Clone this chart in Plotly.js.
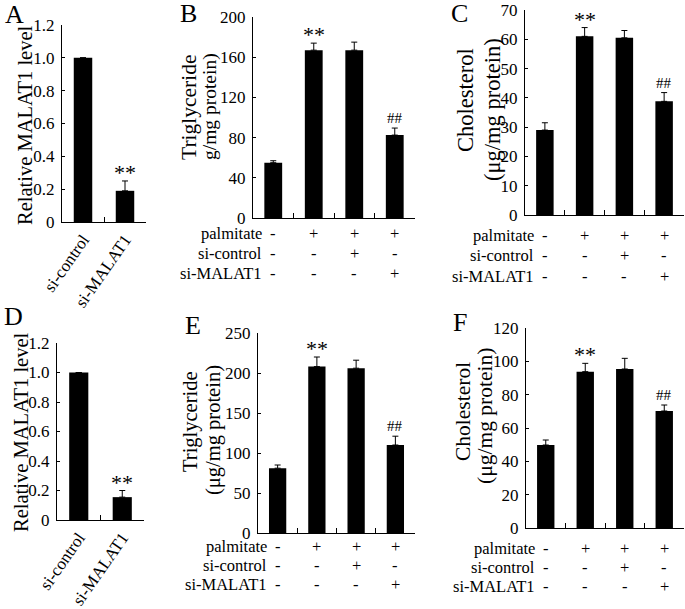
<!DOCTYPE html>
<html>
<head>
<meta charset="utf-8">
<script src="https://cdn.plot.ly/plotly-3.0.1.min.js"></script>
<style>html,body{margin:0;padding:0;background:#fff;}#chart{width:685px;height:609px;}</style>
</head>
<body>
<div id="chart"></div>
<script>
// ---- data ----
const knockGroups = ['si-control', 'si-MALAT1'];
const malatA = [1.0, 0.19];
const malatAErr = [0, 0.06];
const malatD = [1.0, 0.155];
const malatDErr = [0, 0.045];

const treatGroups = ['control', 'palmitate', 'palmitate+si-control', 'palmitate+si-MALAT1'];
const rowLabels = ['palmitate', 'si-control', 'si-MALAT1'];
const rowSigns = [
  ['-', '+', '+', '+'],
  ['-', '-', '+', '-'],
  ['-', '-', '-', '+']
];
const trigB = [55, 167, 167, 82.5];
const trigBErr = [2, 7, 8, 7];
const cholC = [29, 61, 60.5, 38.8];
const cholCErr = [2.5, 3, 2.5, 3];
const trigE = [81, 208, 206, 110];
const trigEErr = [4, 12, 10, 11];
const cholF = [49.8, 93.8, 95.4, 70.2];
const cholFErr = [3, 5, 6.4, 3.6];

const ticksA = [0, 0.2, 0.4, 0.6, 0.8, 1.0, 1.2];
const ticksAText = ['0', '0.2', '0.4', '0.6', '0.8', '1.0', '1.2'];
const ticksB = [0, 40, 80, 120, 160, 200];
const ticksC = [0, 10, 20, 30, 40, 50, 60, 70];
const ticksE = [0, 50, 100, 150, 200, 250];
const ticksF = [0, 20, 40, 60, 80, 100, 120];

// ---- layout helpers ----
const W = 685, H = 609;
const FONT = '"Liberation Serif", "Times New Roman", Times, serif';
const px = v => v / W;
const py = v => 1 - v / H;

const panels = [
  {id: '', letter: 'A', x: [62, 146], y: [222, 25], cats: knockGroups, vals: malatA, err: malatAErr, range: [0, 1.2],
   tv: ticksA, tt: ticksAText, letterPos: [14, 15],
   titles: [{t: 'Relative MALAT1 level', x: 25, y: 125, s: 20.5}],
   stars: [{i: 1, t: '**'}], showX: true},
  {id: '2', letter: 'B', x: [253, 415], y: [218, 17], cats: treatGroups, vals: trigB, err: trigBErr, range: [0, 200],
   tv: ticksB, tt: ticksB.map(String), letterPos: [188, 14],
   titles: [{t: 'Triglyceride', x: 189, y: 107, s: 21.5}, {t: 'g/mg protein)', x: 210, y: 107, s: 19.5}],
   stars: [{i: 1, t: '**'}, {i: 3, t: '##'}], rows: [234, 253.5, 273]},
  {id: '3', letter: 'C', x: [525, 684], y: [215, 10], cats: treatGroups, vals: cholC, err: cholCErr, range: [0, 70],
   tv: ticksC, tt: ticksC.map(String), letterPos: [460, 14],
   titles: [{t: 'Cholesterol', x: 465, y: 100, s: 22.5}, {t: '(μg/mg protein)', x: 492, y: 110, s: 22.5}],
   stars: [{i: 1, t: '**'}, {i: 3, t: '##'}], rows: [236, 256, 276]},
  {id: '4', letter: 'D', x: [57, 144], y: [520, 343], cats: knockGroups, vals: malatD, err: malatDErr, range: [0, 1.2],
   tv: ticksA, tt: ticksAText, letterPos: [13, 316],
   titles: [{t: 'Relative MALAT1 level', x: 21, y: 432, s: 20.5}],
   stars: [{i: 1, t: '**'}], showX: true},
  {id: '5', letter: 'E', x: [258, 415], y: [533, 333], cats: treatGroups, vals: trigE, err: trigEErr, range: [0, 250],
   tv: ticksE, tt: ticksE.map(String), letterPos: [193, 325],
   titles: [{t: 'Triglyceride', x: 190, y: 422, s: 20.5}, {t: '(μg/mg protein)', x: 213, y: 430, s: 20.5}],
   stars: [{i: 1, t: '**'}, {i: 3, t: '##'}], rows: [546, 565, 584]},
  {id: '6', letter: 'F', x: [526, 684], y: [528, 328], cats: treatGroups, vals: cholF, err: cholFErr, range: [0, 120],
   tv: ticksF, tt: ticksF.map(String), letterPos: [460, 322],
   titles: [{t: 'Cholesterol', x: 463, y: 412, s: 21.5}, {t: '(μg/mg protein)', x: 485, y: 416, s: 21.5}],
   stars: [{i: 1, t: '**'}, {i: 3, t: '##'}], rows: [548, 567, 586]}
];

const data = [];
const layout = {
  width: W, height: H,
  margin: {l: 0, r: 0, t: 0, b: 0},
  paper_bgcolor: '#fff', plot_bgcolor: 'rgba(0,0,0,0)',
  showlegend: false,
  font: {family: FONT, color: '#000', size: 16},
  annotations: []
};

panels.forEach(p => {
  const xa = 'x' + p.id, ya = 'y' + p.id;
  data.push({
    type: 'bar', x: p.cats, y: p.vals, xaxis: xa, yaxis: ya, width: 0.44,
    marker: {color: '#000', line: {width: 0}},
    error_y: {type: 'data', array: p.err, arrayminus: p.err.map(() => 0), symmetric: false,
              color: '#000', thickness: 1, width: 3},
    hoverinfo: 'none'
  });
  layout['xaxis' + p.id] = {
    domain: [px(p.x[0]), px(p.x[1])], anchor: ya, type: 'category',
    range: [-0.5, p.cats.length - 0.5], fixedrange: true,
    showline: true, linecolor: '#000', linewidth: 1, mirror: false,
    ticks: 'inside', ticklen: 5, tickcolor: '#000', tickwidth: 1, tickson: 'boundaries',
    showgrid: false, zeroline: false,
    showticklabels: !!p.showX, tickangle: -55,
    tickfont: {family: FONT, size: 17, color: '#000'}
  };
  layout['yaxis' + p.id] = {
    domain: [py(p.y[0]), py(p.y[1])], anchor: xa, range: p.range, fixedrange: true,
    showline: true, linecolor: '#000', linewidth: 1,
    ticks: 'inside', ticklen: 3, tickcolor: '#000', tickwidth: 1,
    tickvals: p.tv, ticktext: p.tt, ticklabelstandoff: 3,
    showgrid: false, zeroline: false,
    tickfont: {family: FONT, size: 17, color: '#000'}
  };
  // axis titles (rotated, one annotation per line)
  p.titles.forEach(t => {
    layout.annotations.push({
      xref: 'paper', yref: 'paper', x: px(t.x), y: py(t.y), textangle: -90,
      xanchor: 'center', yanchor: 'middle', showarrow: false, text: t.t,
      font: {family: FONT, size: t.s, color: '#000'}
    });
  });
  // panel letter
  layout.annotations.push({
    xref: 'paper', yref: 'paper', x: px(p.letterPos[0]), y: py(p.letterPos[1]),
    xanchor: 'center', yanchor: 'middle', showarrow: false, text: p.letter,
    font: {family: FONT, size: 26, color: '#000'}
  });
  // significance marks
  p.stars.forEach(s => {
    const star = s.t === '**';
    layout.annotations.push({
      xref: xa, yref: ya, x: p.cats[s.i], y: p.vals[s.i] + p.err[s.i],
      xanchor: 'center', yanchor: 'bottom', showarrow: false, text: s.t, yshift: star ? -6 : 0,
      font: {family: FONT, size: star ? 22 : 15, color: '#000'}
    });
  });
  // treatment table
  if (p.rows) {
    const catW = (p.x[1] - p.x[0]) / p.cats.length;
    const c1 = p.x[0] + catW / 2;
    p.rows.forEach((ry, r) => {
      layout.annotations.push({
        xref: 'paper', yref: 'paper', x: px(c1 - 9), y: py(ry),
        xanchor: 'right', yanchor: 'middle', showarrow: false, text: rowLabels[r],
        font: {family: FONT, size: 16.5, color: '#000'}
      });
      rowSigns[r].forEach((sg, c) => {
        layout.annotations.push({
          xref: xa, yref: 'paper', x: p.cats[c], y: py(ry),
          xanchor: 'center', yanchor: 'middle', showarrow: false, text: sg,
          font: {family: FONT, size: 16.5, color: '#000'}
        });
      });
    });
  }
});

Plotly.newPlot('chart', data, layout, {staticPlot: true, displayModeBar: false});
</script>
</body>
</html>
